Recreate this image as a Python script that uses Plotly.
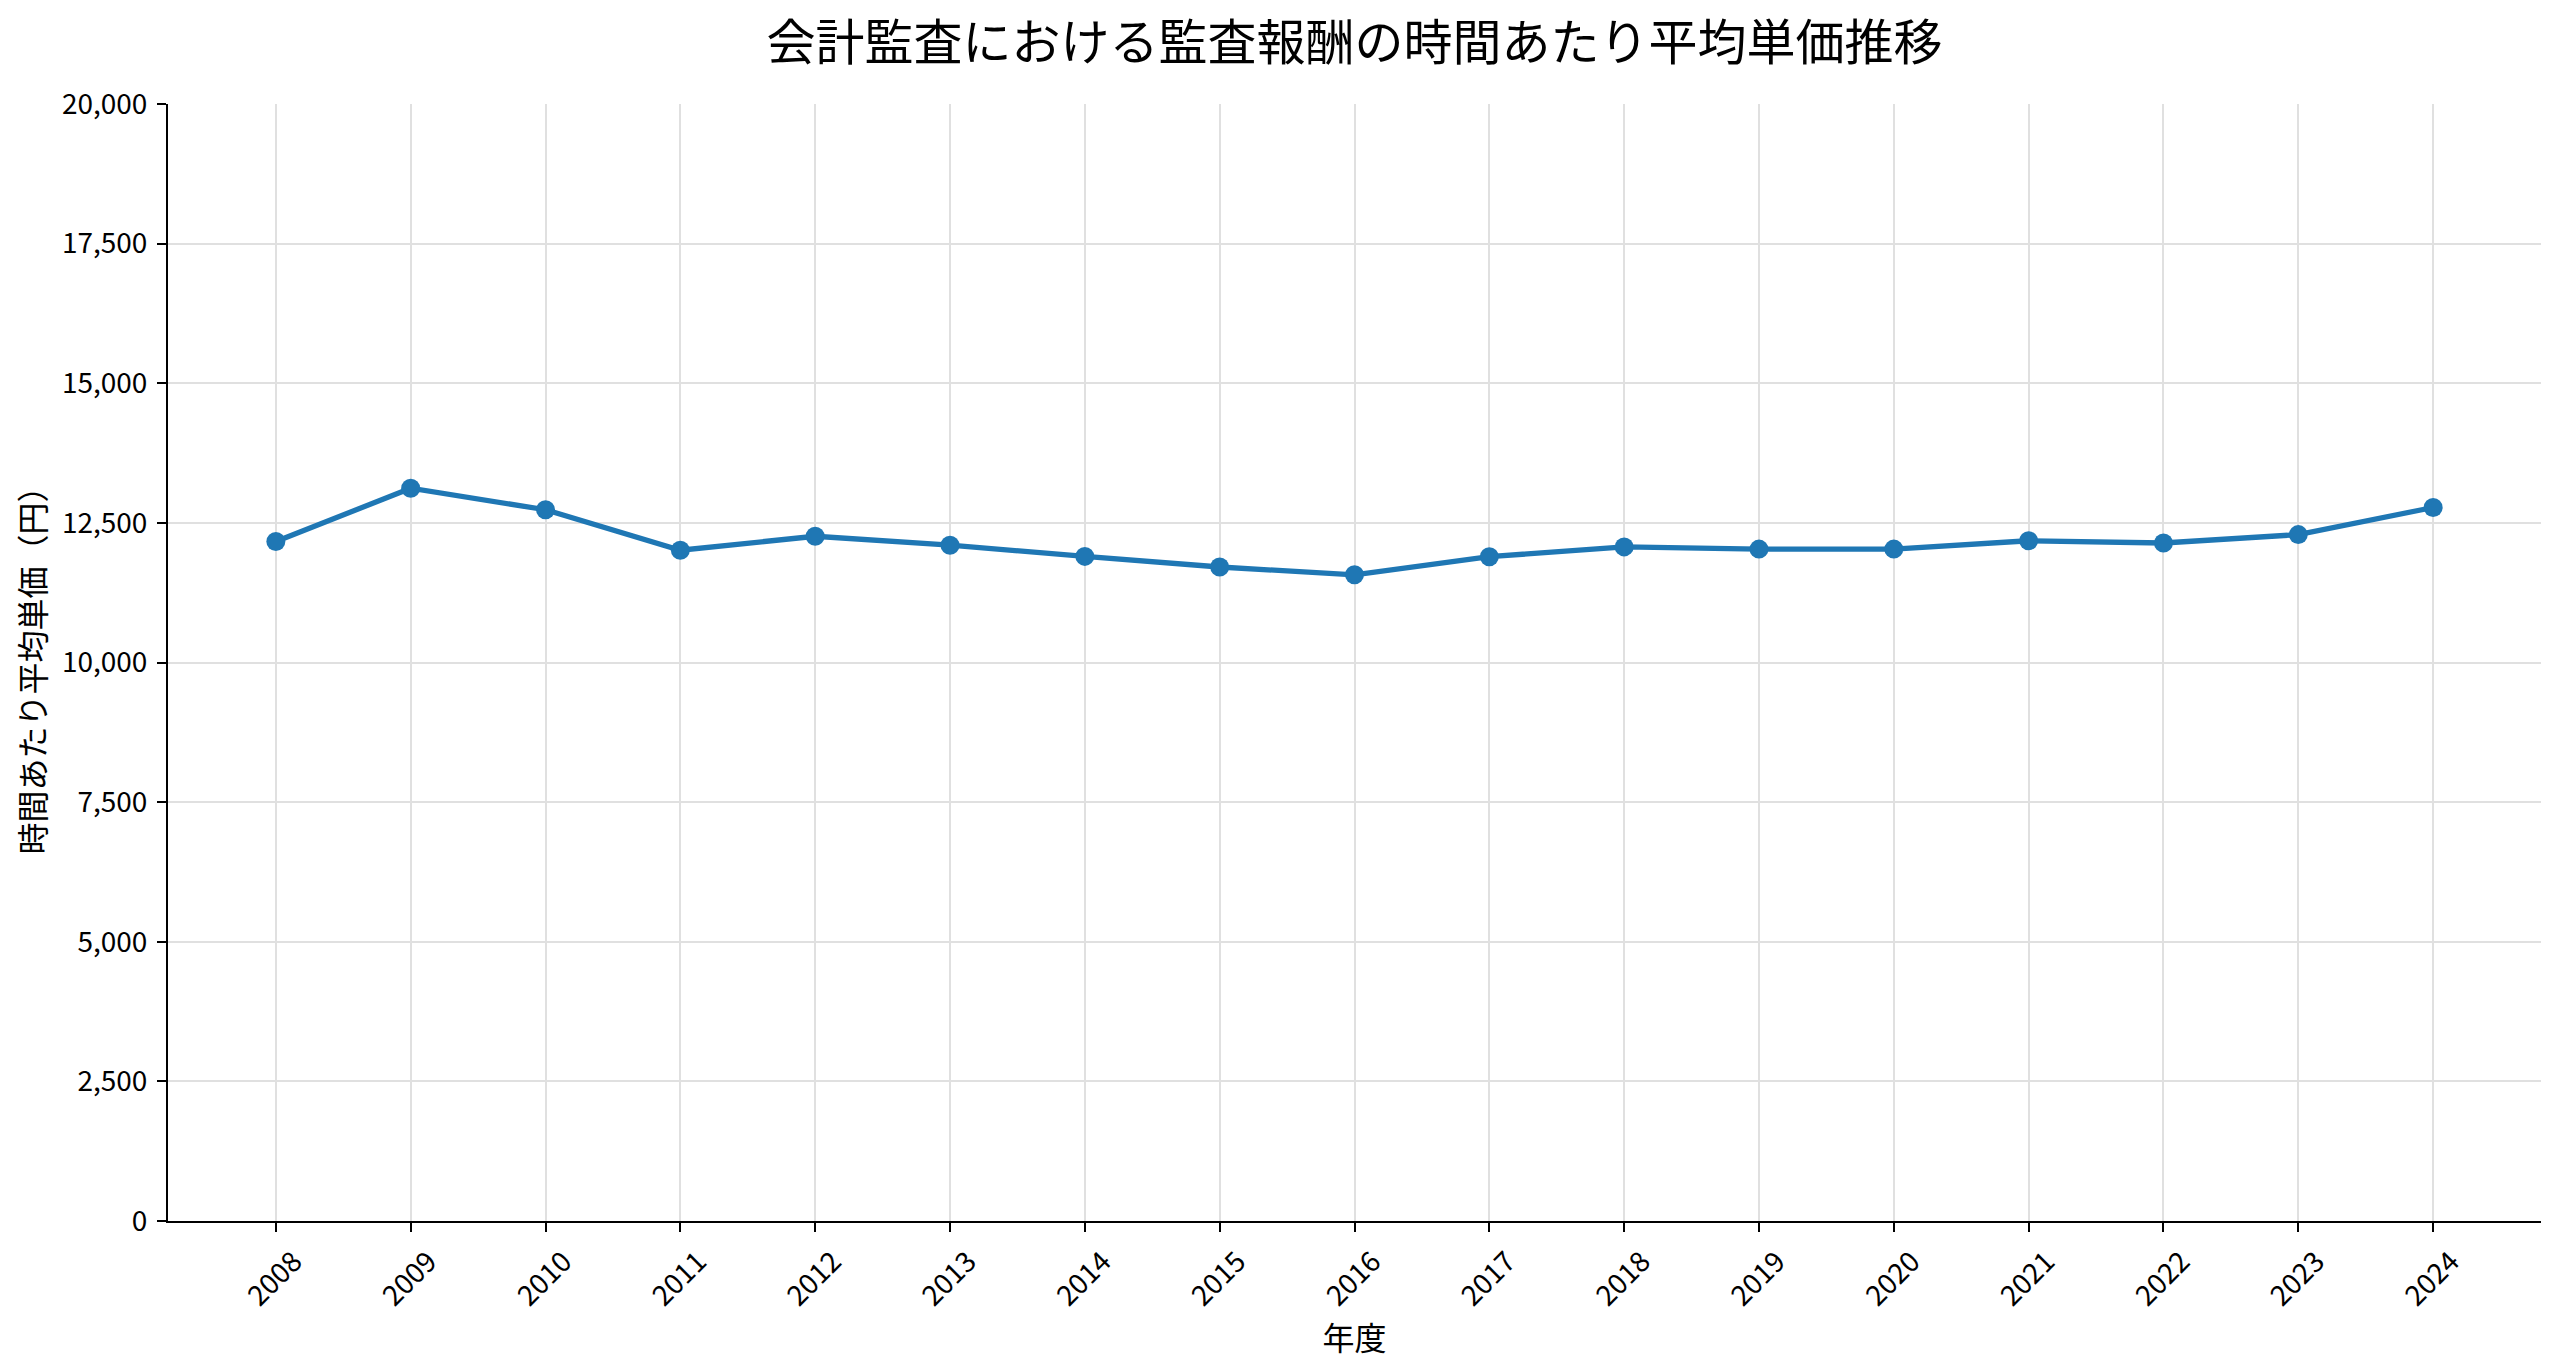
import plotly.graph_objects as go

years = [2008, 2009, 2010, 2011, 2012, 2013, 2014, 2015, 2016,
         2017, 2018, 2019, 2020, 2021, 2022, 2023, 2024]
unit_price = [12165, 13120, 12735, 12010, 12260, 12100, 11900, 11710, 11570,
              11895, 12070, 12030, 12030, 12180, 12140, 12290, 12775]

title_text = '会計監査における監査報酬の時間あたり平均単価推移'
x_title = '年度'
y_title = '時間あたり平均単価（円）'
y_ticks = [0, 2500, 5000, 7500, 10000, 12500, 15000, 17500, 20000]

FONT = 'Noto Sans CJK JP'

fig = go.Figure([
    go.Scatter(x=years, y=unit_price, mode='lines+markers',
               line=dict(color='#1f77b4', width=5.3),
               marker=dict(color='#1f77b4', size=19))
])

# page body has an 8px margin, so the figure is shrunk by that amount
fig.update_layout(
    width=2544, height=1355,
    paper_bgcolor='white', plot_bgcolor='white',
    font=dict(family=FONT, color='black', size=28),
    margin=dict(l=160, r=11, t=96, b=142),
    showlegend=False,
    title=dict(text=title_text, x=0.5, xref='paper', xanchor='center',
               y=1 - 35 / 1355, yanchor='middle',
               font=dict(family=FONT, size=49, color='black')),
)

fig.update_xaxes(
    range=[2007.2, 2024.8], tickvals=years, ticktext=[str(y) for y in years],
    tickangle=-45, ticks='outside', ticklen=9, tickwidth=1.5, tickcolor='black',
    showline=True, linecolor='black', linewidth=2,
    showgrid=True, gridcolor='#e0e0e0', gridwidth=2, zeroline=False,
    tickfont=dict(size=28), ticklabelshift=18, ticklabelstandoff=2,
    title=dict(text=x_title, font=dict(size=32), standoff=12),
)
fig.update_yaxes(
    range=[0, 20000], tickvals=y_ticks, tickformat=',d',
    ticks='outside', ticklen=9, tickwidth=1.5, tickcolor='black',
    showline=True, linecolor='black', linewidth=2,
    showgrid=True, gridcolor='#e0e0e0', gridwidth=2, zeroline=False,
    tickfont=dict(size=28), ticklabelstandoff=4,
    title=dict(text=y_title, font=dict(size=32), standoff=14),
)

fig.write_html("out.html")
